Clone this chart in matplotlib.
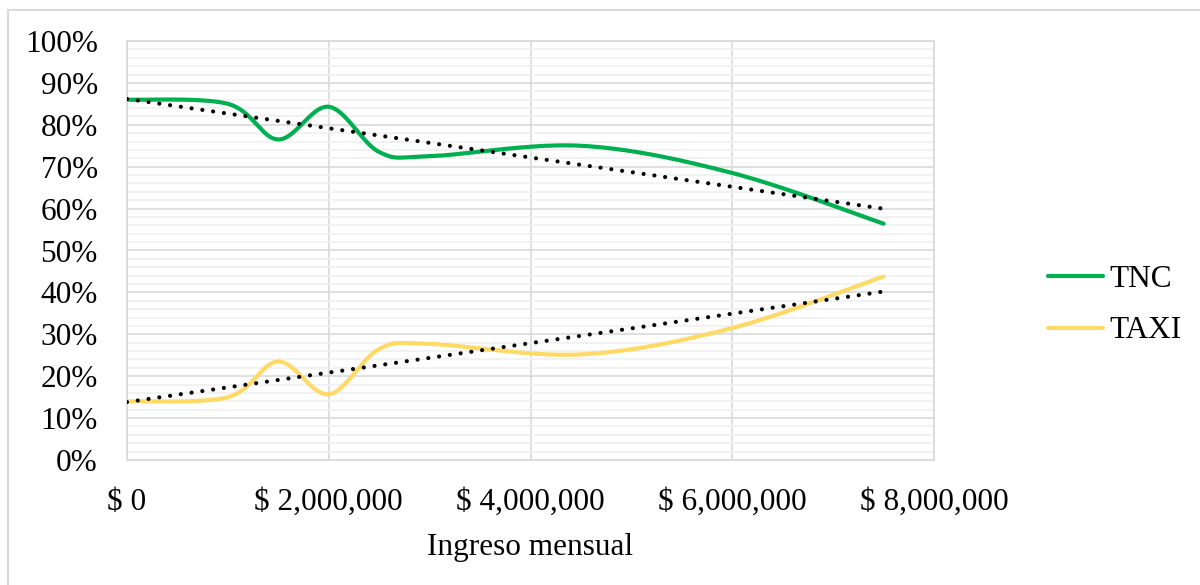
import numpy as np
import matplotlib.pyplot as plt
from matplotlib.patches import Rectangle
from matplotlib.ticker import FuncFormatter, MultipleLocator

# datos (ingreso mensual vs. participacion)
ingreso = [0, 1000000, 1500000, 2000000, 2500000, 3000000, 4500000, 6000000, 7500000]
tnc = [86, 85, 76.5, 84.3, 73.5, 72.5, 75, 68.5, 56.4]
taxi = [14, 15, 23.5, 15.7, 26.5, 27.7, 25.2, 31.5, 43.8]

plt.rcParams['font.family'] = ['Liberation Serif', 'DejaVu Serif']


def suavizar(x, y, n=50):
    # curva tipo "linea suavizada" de Excel (Catmull-Rom -> Bezier)
    P = np.column_stack([np.asarray(x, float), np.asarray(y, float)])
    P = np.vstack([P[0], P, P[-1]])
    t = np.linspace(0, 1, n)[:, None]
    out = []
    for i in range(1, len(P) - 2):
        p0, p1, p2, p3 = P[i - 1], P[i], P[i + 1], P[i + 2]
        c1 = p1 + (p2 - p0) / 6
        c2 = p2 - (p3 - p1) / 6
        seg = (1 - t) ** 3 * p1 + 3 * (1 - t) ** 2 * t * c1 + 3 * (1 - t) * t ** 2 * c2 + t ** 3 * p2
        out.append(seg if i == 1 else seg[1:])
    out = np.vstack(out)
    return out[:, 0], out[:, 1]


fig = plt.figure(figsize=(12, 5.85), dpi=100)
fig.patches.append(Rectangle((8 / 1200, -0.05), 1.2, 1 - 10 / 585 + 0.05,
                             transform=fig.transFigure, fill=False,
                             edgecolor='#D9D9D9', linewidth=1.5))
ax = fig.add_axes([127 / 1200, 125 / 585, 807 / 1200, 419 / 585])

x_arr = np.array(ingreso, float)
for serie, color, nombre in [(tnc, '#00B050', 'TNC'), (taxi, '#FFD966', 'TAXI')]:
    xs, ys = suavizar(x_arr, serie)
    ax.plot(xs, ys, color=color, lw=3, label=nombre, solid_capstyle='round', zorder=3)
    # linea de tendencia lineal
    m, b = np.polyfit(x_arr, serie, 1)
    xt = np.array([x_arr[0], x_arr[-1]])
    ax.plot(xt, m * xt + b, color='black', lw=3, linestyle=(0, (0.01, 2.6)),
            dash_capstyle='round', zorder=4)

ax.set_xlim(0, 8000000)
ax.set_ylim(0, 100)
ax.xaxis.set_major_locator(MultipleLocator(2000000))
ax.yaxis.set_major_locator(MultipleLocator(10))
ax.yaxis.set_minor_locator(MultipleLocator(2))
ax.xaxis.set_major_formatter(FuncFormatter(lambda v, p: f'$ {v:,.0f}'))
ax.yaxis.set_major_formatter(FuncFormatter(lambda v, p: f'{v:.0f}%'))

ax.grid(True, which='major', color='#D9D9D9', lw=1.2, zorder=0)
ax.grid(True, which='minor', axis='y', color='#F0F0F0', lw=1.2, zorder=0)
ax.set_axisbelow(True)
for s in ax.spines.values():
    s.set_color('#D9D9D9')
    s.set_linewidth(1.2)
ax.tick_params(which='both', length=0, labelsize=22.5)
ax.tick_params(axis='y', pad=21)
ax.tick_params(axis='x', pad=20)

ax.set_xlabel('Ingreso mensual', fontsize=22.5, labelpad=12)

fig.legend(loc='center left', bbox_to_anchor=(1020 / 1200, 0.478), frameon=False,
           fontsize=22.5, handlelength=1.75, handletextpad=0.2, labelspacing=0.71)

plt.savefig('out.png', dpi=100)
